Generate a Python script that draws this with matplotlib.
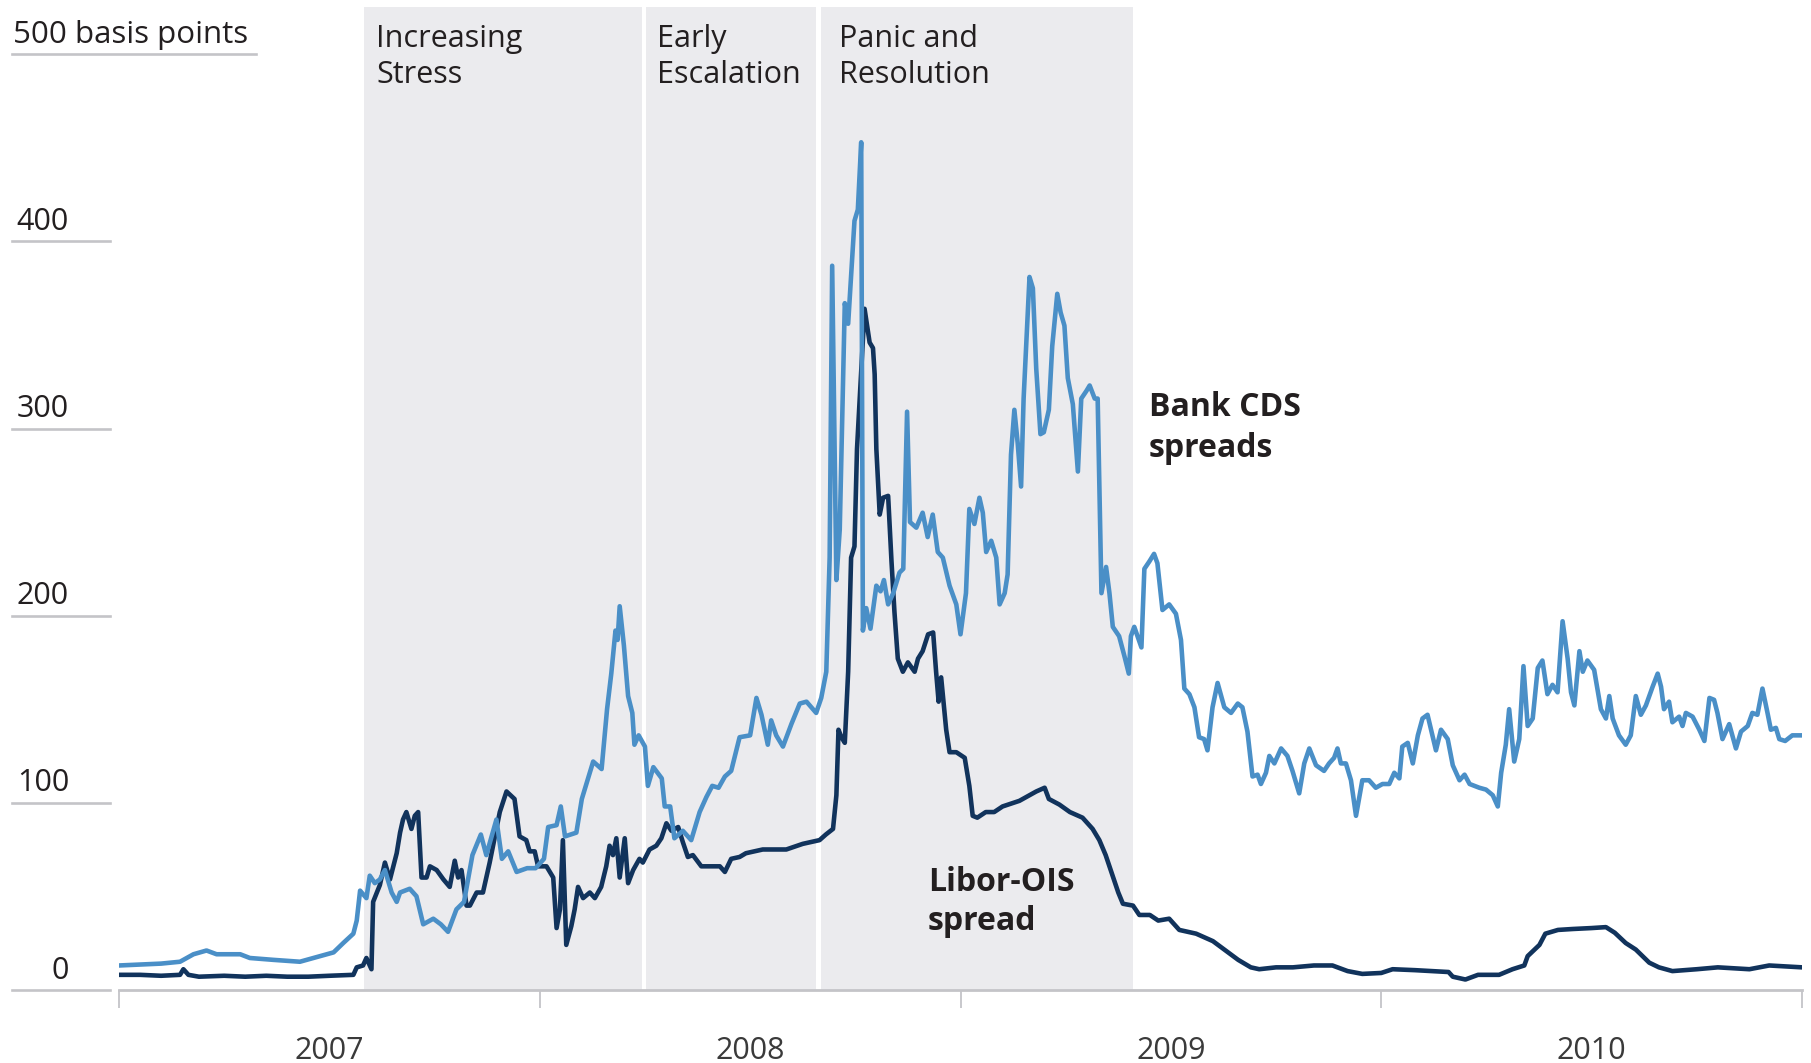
import matplotlib
matplotlib.use('Agg')
import matplotlib.pyplot as plt
from matplotlib.lines import Line2D
from matplotlib.transforms import blended_transform_factory

# time in fractional years, spreads in basis points
cds_t = [2007.0, 2007.05, 2007.10, 2007.145, 2007.177, 2007.208, 2007.232, 2007.288, 2007.311,
         2007.367, 2007.43, 2007.478, 2007.51, 2007.533, 2007.557, 2007.565, 2007.573, 2007.588,
         2007.596, 2007.608, 2007.62, 2007.632, 2007.648, 2007.66, 2007.668, 2007.691, 2007.707,
         2007.723, 2007.747, 2007.765, 2007.782, 2007.802, 2007.82, 2007.84, 2007.86, 2007.873,
         2007.897, 2007.91, 2007.925, 2007.945, 2007.97, 2007.99, 2008.01, 2008.02, 2008.04,
         2008.05, 2008.06, 2008.087, 2008.10, 2008.127, 2008.147, 2008.16, 2008.17, 2008.18,
         2008.185, 2008.19, 2008.20, 2008.21, 2008.22, 2008.225, 2008.235, 2008.25, 2008.257,
         2008.27, 2008.29, 2008.297, 2008.31, 2008.32, 2008.34, 2008.36, 2008.38, 2008.396,
         2008.41, 2008.425, 2008.44, 2008.455, 2008.475, 2008.50, 2008.515, 2008.527, 2008.542,
         2008.55, 2008.562, 2008.578, 2008.598, 2008.618, 2008.634, 2008.657, 2008.669, 2008.681,
         2008.689, 2008.695, 2008.705, 2008.713, 2008.725, 2008.733, 2008.748, 2008.756, 2008.764,
         2008.768, 2008.776, 2008.786, 2008.80, 2008.81, 2008.818, 2008.828, 2008.84, 2008.855,
         2008.864, 2008.873, 2008.88, 2008.895, 2008.91, 2008.922, 2008.934, 2008.946, 2008.958,
         2008.974, 2008.99, 2009.0, 2009.013, 2009.021, 2009.033, 2009.045, 2009.053, 2009.061,
         2009.073, 2009.085, 2009.093, 2009.105, 2009.112, 2009.12, 2009.128, 2009.136, 2009.144,
         2009.15, 2009.164, 2009.172, 2009.18, 2009.19, 2009.198, 2009.21, 2009.218, 2009.23,
         2009.238, 2009.247, 2009.255, 2009.267, 2009.279, 2009.287, 2009.299, 2009.307, 2009.319,
         2009.326, 2009.335, 2009.346, 2009.354, 2009.362, 2009.377, 2009.39, 2009.40, 2009.405,
         2009.413, 2009.43, 2009.437, 2009.449, 2009.46, 2009.468, 2009.48, 2009.496, 2009.512,
         2009.524, 2009.532, 2009.544, 2009.556, 2009.567, 2009.579, 2009.587, 2009.599, 2009.611,
         2009.627, 2009.643, 2009.659, 2009.67, 2009.682, 2009.694, 2009.706, 2009.714, 2009.726,
         2009.734, 2009.746, 2009.762, 2009.777, 2009.789, 2009.805, 2009.817, 2009.829, 2009.845,
         2009.864, 2009.876, 2009.888, 2009.896, 2009.904, 2009.916, 2009.928, 2009.94, 2009.955,
         2009.971, 2009.987, 2010.003, 2010.019, 2010.031, 2010.043, 2010.05, 2010.063, 2010.075,
         2010.087, 2010.098, 2010.11, 2010.13, 2010.142, 2010.158, 2010.17, 2010.186, 2010.198,
         2010.21, 2010.233, 2010.249, 2010.265, 2010.277, 2010.285, 2010.296, 2010.304, 2010.316,
         2010.328, 2010.338, 2010.348, 2010.36, 2010.372, 2010.383, 2010.395, 2010.407, 2010.419,
         2010.431, 2010.443, 2010.451, 2010.459, 2010.471, 2010.479, 2010.49, 2010.506, 2010.522,
         2010.534, 2010.542, 2010.55, 2010.565, 2010.581, 2010.593, 2010.605, 2010.617, 2010.629,
         2010.645, 2010.657, 2010.665, 2010.672, 2010.684, 2010.692, 2010.708, 2010.716, 2010.724,
         2010.74, 2010.756, 2010.768, 2010.78, 2010.791, 2010.799, 2010.811, 2010.827, 2010.843,
         2010.855, 2010.871, 2010.882, 2010.894, 2010.906, 2010.918, 2010.926, 2010.938, 2010.946,
         2010.96, 2010.977, 2010.997]
cds_bp = [13, 13.5, 14, 15, 19, 21, 19, 19, 17,
          16, 15, 18, 20, 25, 30, 37, 53, 49,
          61, 57, 59, 64, 52, 47, 52, 54, 50,
          35, 38, 35, 31, 43, 47, 72, 83, 72,
          91, 70, 74, 63, 65, 65, 70, 87, 88,
          98, 82, 84, 102, 122, 118, 150, 169, 192,
          187, 205, 184, 157, 148, 131, 136, 130, 109,
          119, 113, 98, 98, 81, 85, 80, 95, 103,
          109, 108, 114, 117, 135, 136, 156, 147, 131,
          144, 136, 130, 142, 153, 154, 148, 156, 170,
          231, 387, 219, 246, 367, 356, 411, 417, 453,
          192, 204, 193, 216, 213, 219, 206, 212, 223,
          225, 309, 250, 247, 255, 242, 254, 234, 231,
          216, 206, 190, 212, 257, 249, 263, 255, 234,
          240, 231, 206, 212, 222, 286, 310, 292, 269,
          316, 381, 375, 332, 297, 298, 310, 344, 372,
          362, 355, 327, 313, 277, 316, 320, 323, 316,
          316, 212, 226, 212, 194, 189, 178, 169, 189,
          194, 183, 225, 229, 233, 228, 203, 206, 201,
          187, 161, 158, 151, 135, 134, 128, 151, 164,
          151, 148, 153, 151, 138, 114, 115, 110, 116,
          125, 121, 129, 125, 117, 105, 121, 129, 120,
          117, 121, 124, 129, 121, 121, 112, 93, 112,
          112, 108, 110, 110, 116, 113, 130, 132, 121,
          136, 145, 147, 128, 139, 134, 120, 112, 115,
          110, 108, 107, 104, 98, 116, 131, 150, 122,
          134, 173, 141, 145, 172, 176, 158, 163, 159,
          197, 177, 159, 152, 181, 170, 176, 171, 150,
          145, 157, 145, 136, 131, 136, 157, 147, 152,
          162, 169, 162, 150, 154, 143, 146, 141, 148,
          146, 139, 133, 156, 155, 148, 134, 142, 129,
          138, 141, 148, 147, 161, 148, 139, 140, 134,
          133, 136, 136]

libor_t = [2007.0, 2007.05, 2007.10, 2007.145, 2007.153, 2007.165, 2007.19, 2007.25, 2007.30,
           2007.35, 2007.40, 2007.45, 2007.50, 2007.557, 2007.565, 2007.58, 2007.588, 2007.60,
           2007.604, 2007.62, 2007.632, 2007.644, 2007.66, 2007.668, 2007.675, 2007.683, 2007.695,
           2007.703, 2007.711, 2007.719, 2007.731, 2007.739, 2007.755, 2007.771, 2007.786, 2007.798,
           2007.806, 2007.814, 2007.826, 2007.834, 2007.85, 2007.865, 2007.881, 2007.905, 2007.921,
           2007.94, 2007.952, 2007.968, 2007.976, 2007.988, 2007.996, 2008.016, 2008.032, 2008.04,
           2008.048, 2008.055, 2008.063, 2008.075, 2008.083, 2008.091, 2008.103, 2008.119, 2008.131,
           2008.146, 2008.158, 2008.166, 2008.174, 2008.182, 2008.19, 2008.202, 2008.21, 2008.222,
           2008.237, 2008.245, 2008.261, 2008.277, 2008.289, 2008.301, 2008.313, 2008.329, 2008.34,
           2008.352, 2008.364, 2008.384, 2008.404, 2008.428, 2008.44, 2008.455, 2008.475, 2008.49,
           2008.53, 2008.586, 2008.625, 2008.665, 2008.68, 2008.697, 2008.705, 2008.71, 2008.717,
           2008.725, 2008.733, 2008.74, 2008.748, 2008.754, 2008.772, 2008.784, 2008.792, 2008.796,
           2008.80, 2008.808, 2008.816, 2008.828, 2008.836, 2008.843, 2008.851, 2008.863, 2008.875,
           2008.891, 2008.899, 2008.91, 2008.923, 2008.935, 2008.942, 2008.948, 2008.954, 2008.966,
           2008.974, 2008.99, 2009.01, 2009.021, 2009.029, 2009.04, 2009.06, 2009.08, 2009.10,
           2009.14, 2009.18, 2009.20, 2009.21, 2009.235, 2009.26, 2009.29, 2009.314, 2009.33,
           2009.345, 2009.36, 2009.375, 2009.386, 2009.41, 2009.425, 2009.45, 2009.47, 2009.496,
           2009.52, 2009.56, 2009.60, 2009.63, 2009.66, 2009.69, 2009.71, 2009.75, 2009.79,
           2009.84, 2009.884, 2009.92, 2009.955, 2010.0, 2010.027, 2010.08, 2010.12, 2010.16,
           2010.17, 2010.20, 2010.23, 2010.28, 2010.312, 2010.34, 2010.348, 2010.376, 2010.39,
           2010.42, 2010.455, 2010.50, 2010.534, 2010.555, 2010.581, 2010.605, 2010.637, 2010.66,
           2010.692, 2010.75, 2010.8, 2010.875, 2010.922, 2011.0]
libor_bp = [8, 8, 7.5, 8, 11, 8, 7, 7.5, 7,
            7.5, 7, 7, 7.5, 8, 12, 13, 17, 11,
            47, 56, 68, 59, 73, 84, 91, 95, 86,
            93, 95, 60, 60, 66, 64, 59, 55, 69,
            60, 64, 45, 45, 52, 52, 68, 95, 106,
            102, 82, 80, 74, 74, 66, 66, 60, 33,
            43, 80, 24, 34, 43, 55, 49, 52, 49,
            55, 66, 77, 72, 81, 60, 81, 57, 64,
            70, 68, 75, 77, 81, 89, 85, 87, 79,
            71, 72, 66, 66, 66, 63, 70, 71, 73,
            75, 75, 78, 80, 83, 86, 104, 139, 135,
            132, 170, 231, 237, 289, 364, 346, 343, 329,
            289, 254, 263, 264, 229, 202, 177, 170, 175,
            170, 177, 181, 190, 191, 170, 154, 167, 139,
            127, 127, 124, 109, 93, 92, 95, 95, 98,
            101, 106, 108, 102, 99, 95, 92, 86, 80,
            72, 62, 52, 46, 45, 40, 40, 37, 38,
            32, 30, 26, 21, 16, 12, 11, 12, 12,
            13, 13, 10, 8.5, 9, 11, 10.5, 10, 9.5,
            7, 5.5, 8, 8, 11, 13, 18, 24, 30,
            32, 32.5, 33, 33.5, 30.5, 25, 21.5, 14.5, 12,
            10, 11, 12, 11, 13, 12]

# shaded periods: start, end, label lines
period_start = [2007.582, 2008.253, 2008.669]
period_end = [2008.242, 2008.657, 2009.409]
period_labels = [['Increasing', 'Stress'], ['Early', 'Escalation'], ['Panic and', 'Resolution']]
label_inset = [0.030, 0.026, 0.042]

y_ticks = [0, 100, 200, 300, 400, 500]
y_tick_labels = ['0', '100', '200', '300', '400', '500 basis points']
years = [2007, 2008, 2009, 2010]

W, H = 1811, 1063
LIGHT = '#4a8fc7'
DARK = '#11335c'
BAND = '#ebebee'
GRID = '#c4c4c8'
TEXT = '#231f20'


def draw() -> None:
    plt.rcParams['font.family'] = ['Open Sans', 'DejaVu Sans']
    fig = plt.figure(figsize=(W / 100, H / 100), dpi=100)
    ax = fig.add_axes([119 / W, 1 - 989.8 / H, 1683 / W, 982.8 / H])
    ax.set_xlim(2007, 2011)
    ax.set_ylim(0, 525.3)

    for s, e in zip(period_start, period_end):
        ax.axvspan(s, e, color=BAND, lw=0, zorder=0)
    for s, inset, lines in zip(period_start, label_inset, period_labels):
        ax.text(s + inset, 504, lines[0], fontsize=22, color=TEXT, va='baseline')
        ax.text(s + inset, 484.5, lines[1], fontsize=22, color=TEXT, va='baseline')

    ax.plot(libor_t, libor_bp, color=DARK, lw=3.3, solid_joinstyle='round', zorder=3)
    ax.plot(cds_t, cds_bp, color=LIGHT, lw=3.3, solid_joinstyle='round', zorder=4)

    bold = dict(fontsize=23, fontweight='bold', color=TEXT, va='baseline')
    ax.text(2009.448, 306.6, 'Bank CDS', **bold)
    ax.text(2009.448, 285, 'spreads', **bold)
    ax.text(2008.922, 52.9, 'Libor-OIS', **bold)
    ax.text(2008.922, 31.9, 'spread', **bold)

    # y labels sit on short rules left of the plot
    trans = blended_transform_factory(fig.transFigure, ax.transData)
    for v, lab in zip(y_ticks, y_tick_labels):
        x_end = 256 / W if v == 500 else 110 / W
        rule = Line2D([11.5 / W, x_end], [v, v], transform=trans, color=GRID, lw=1.9,
                      clip_on=False)
        ax.add_line(rule)
        if v == 500:
            ax.text(13 / W, v + 6, lab, transform=trans, fontsize=22.5, color=TEXT, va='baseline', ha='left')
        else:
            ax.text(69 / W, v + 6, lab, transform=trans, fontsize=22, color=TEXT, va='baseline', ha='right')

    ax.set_yticks([])
    for side in ('left', 'right', 'top'):
        ax.spines[side].set_visible(False)
    ax.spines['bottom'].set_color(GRID)
    ax.spines['bottom'].set_linewidth(2.0)

    ax.set_xticks([2007, 2008, 2009, 2010, 2011])
    ax.tick_params(axis='x', which='major', length=13, width=1.3, color=GRID, labelbottom=False)
    xtrans = blended_transform_factory(ax.transData, fig.transFigure)
    for y in years:
        ax.text(y + 0.5, 1 - 1059 / H, str(y), transform=xtrans, fontsize=22, color='#3a3a3a',
                ha='center', va='baseline')

    fig.savefig('out.png', dpi=100)


if __name__ == '__main__':
    draw()
